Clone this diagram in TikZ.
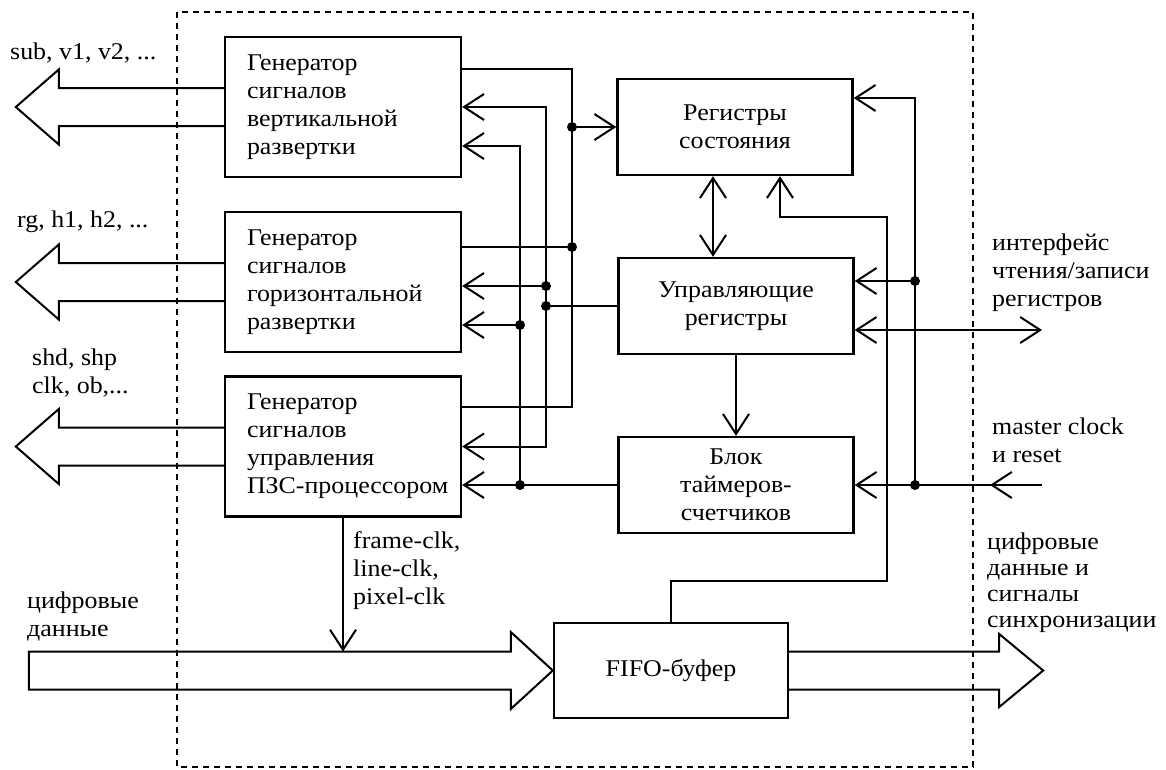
\documentclass[tikz,border=0pt]{standalone}
\usepackage{fontspec}
\setmainfont{Liberation Serif}[FakeStretch=1.08]
\usetikzlibrary{arrows.meta}

% wide output bus leaving a block to the left
\newcommand\leftbus[1]{%
  \draw[bus] ([yshift=19pt]#1.west) -- ++(-165,0) -- ++(0,-18.5)
    -- ++(-43,37.5) -- ++(43,37.5) -- ++(0,-18.5) -- ([yshift=-19pt]#1.west);}

\begin{document}
\begin{tikzpicture}[x=1pt,y=-1pt,
  font=\fontsize{24}{28}\selectfont,
  blk/.style={draw, line width=2.4pt, inner sep=0pt, align=center},
  gen/.style={blk, inner xsep=22pt, text width=192pt, align=left,
    minimum width=236pt, minimum height=140pt},
  reg/.style={blk, minimum width=235pt, minimum height=96pt},
  sig/.style={line width=2pt},
  bus/.style={line width=2pt, line join=miter},
  frame/.style={line width=2.5pt, dash pattern=on 6pt off 5pt},
  dot/.style={circle, fill, inner sep=0pt, minimum size=10pt},
  lbl/.style={anchor=base west, inner sep=0pt, align=left},
  >={Straight Barb[length=20pt,width=26pt]}]

\useasboundingbox (0,0) rectangle (1166,769);

% device boundary
\draw[frame] (177,12) rectangle (973,767);

% blocks
\node[gen] (g1) at (343,107) {Генератор\\сигналов\\вертикальной\\развертки};
\node[gen] (g2) at (343,282) {Генератор\\сигналов\\горизонтальной\\развертки};
\node[gen] (g3) at (343,446.5) {Генератор\\сигналов\\управления\\\mbox{ПЗС-процессором}};
\node[reg] (g4) at (735,127) {Регистры\\состояния};
\node[reg] (g5) at (736,306) {Управляющие\\регистры};
\node[reg] (g6) at (736,485) {Блок\\таймеров-\\счетчиков};
\node[reg, minimum width=234pt, minimum height=95pt] (g7) at (671,670.5) {FIFO-буфер};

% rails and ports
\coordinate (xa) at (572,0);
\coordinate (xb) at (546,0);
\coordinate (xc) at (520,0);
\coordinate (xd) at (887,0);
\coordinate (xe) at (915,0);
\coordinate (xm) at (990,0);
\coordinate (xr) at (1042,0);
\coordinate (fbk) at (0,581);
\coordinate (fbtop) at (0,217);
\coordinate (g1o) at ([yshift=38pt]g1.east);
\coordinate (g1i2) at ([yshift=-39pt]g1.east);
\coordinate (g2o) at ([yshift=35pt]g2.east);
\coordinate (g2i1) at ([yshift=-4pt]g2.east);
\coordinate (g2i2) at ([yshift=-43pt]g2.east);
\coordinate (g3o) at ([yshift=39.5pt]g3.east);
\coordinate (g4s) at ([xshift=-22pt]g4.south);
\coordinate (g4b) at ([xshift=45pt]g4.south);
\coordinate (g4r) at ([yshift=29pt]g4.east);
\coordinate (g5r1) at ([yshift=25pt]g5.east);
\coordinate (g5r2) at ([yshift=-24pt]g5.east);

% wide buses
\leftbus{g1}
\leftbus{g2}
\leftbus{g3}
\draw[bus] (g7.west) -- ++(-42,-38.5) -- ++(0,19.5) coordinate (inTop)
  -- ++(-482,0) -- ++(0,38) -- ++(482,0) -- ++(0,19.5) -- cycle;
\draw[bus] ([yshift=19pt]g7.east) -- ++(210,0) -- ++(0,-17.5) -- ++(44,36.5)
  -- ++(-44,36.5) -- ++(0,-17.5) -- ([yshift=-19pt]g7.east);

% common status bus
\draw[sig] (g1o) -| (xa |- g3o) -- (g3o);
\draw[sig] (g2o) -- (xa |- g2o);
\draw[sig,->] (xa |- g4.west) -- (g4.west);
\node[dot] at (xa |- g4.west) {};
\node[dot] at (xa |- g2o) {};

% control register bus
\draw[sig,<->] (g1.east) -| (xb |- g3.east) -- (g3.east);
\draw[sig,->] (xb |- g2i1) -- (g2i1);
\draw[sig] (g5.west) -- (xb |- g5.west);
\node[dot] at (xb |- g2i1) {};
\node[dot] at (xb |- g5.west) {};

% timer bus
\draw[sig,<-] (g1i2) -| (xc |- g6.west);
\draw[sig,->] (g6.west) -- (g3.east |- g6.west);
\draw[sig,->] (xc |- g2i2) -- (g2i2);
\node[dot] at (xc |- g2i2) {};
\node[dot] at (xc |- g6.west) {};

% register links
\draw[sig,<->] (g4s) -- (g4s |- g5.north);
\draw[sig,->] (g5.south) -- (g6.north);
\draw[sig,->] (g7.north) |- (xd |- fbk) -- (xd |- fbtop) -| (g4b);

% clock and reset distribution
\draw[sig,->] (xe |- g6.east) -- (xe |- g4r) -- (g4r);
\draw[sig,->] (xe |- g5r1) -- (g5r1);
\draw[sig,->] (xr |- g6.east) -- (g6.east);
\draw[sig,->] (xr |- g6.east) -- (xm |- g6.east);
\node[dot] at (xe |- g5r1) {};
\node[dot] at (xe |- g6.east) {};

% register interface
\draw[sig,<->] (g5r2) -- (xr |- g5r2);

% pixel clocks to the data path
\draw[sig,->] (g3.south) -- (g3.south |- inTop);

% labels (anchored at the baseline of their last line)
\node[lbl] at (10,59) {sub, v1, v2, ...};
\node[lbl] at (17,227) {rg, h1, h2, ...};
\node[lbl] at (32,393) {shd, shp\\clk, ob,...};
\node[lbl] at (353,604) {frame-clk,\\line-clk,\\pixel-clk};
\node[lbl] at (27,636) {цифровые\\данные};
\node[lbl] at (992,306) {интерфейс\\чтения/записи\\регистров};
\node[lbl] at (992,462) {master clock\\и reset};
\node[lbl, font=\fontsize{24}{25.7}\selectfont] at (987,627)
  {цифровые\\данные и\\сигналы\\синхронизации};
\end{tikzpicture}
\end{document}
